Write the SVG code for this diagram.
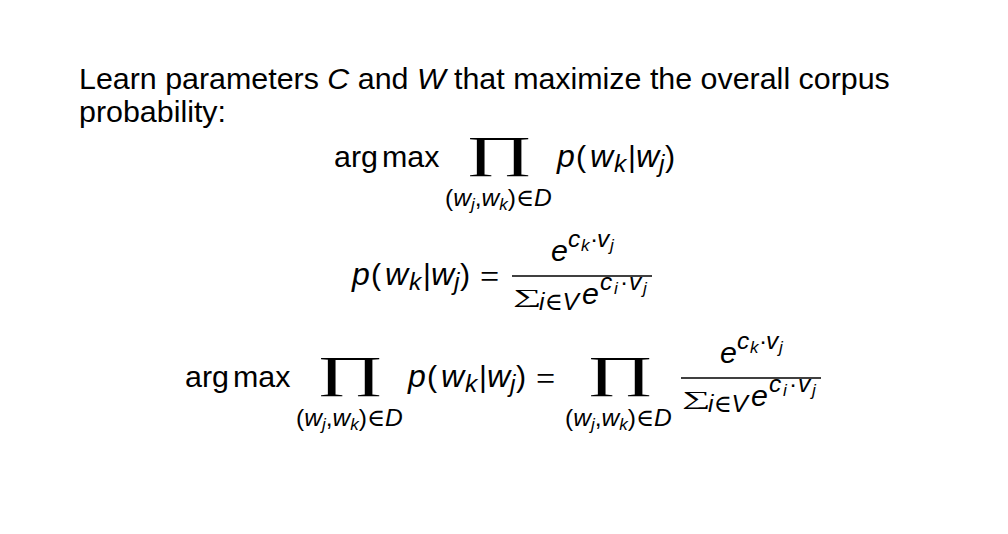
<svg xmlns="http://www.w3.org/2000/svg" width="1008" height="534" viewBox="0 0 1008 534">
<style>
text{font-family:"Liberation Sans",Arial,sans-serif;fill:#000}
.b{font-size:30.4px}
.m{font-size:30.4px}
.mi{font-size:32px;font-style:italic}
.sc{font-size:24.5px}
.ss{font-size:17px}
.i{font-style:italic}
.sf{font-family:"Liberation Serif","DejaVu Serif",serif}
.op{font-family:"Liberation Serif","DejaVu Serif",serif;font-size:44px;text-anchor:middle}
.sum{font-family:"Liberation Serif","DejaVu Serif",serif;font-size:20px}
.eq{font-family:"Liberation Serif","DejaVu Serif",serif;font-size:34px}
.bar{stroke:#000;stroke-width:1.4}
</style>
<rect width="1008" height="534" fill="#fff"/>
<g id="intro">
<text class="b" x="79" y="89">Learn parameters <tspan class="i">C</tspan> and <tspan class="i">W</tspan> that maximize the overall corpus</text>
<text class="b" x="79" y="122">probability:</text>
</g>
<g id="eq1">
<text class="m" x="334" y="167">arg</text>
<text class="m" x="382" y="167">max</text>
<text class="op" transform="translate(499,167) scale(1.85,1)">∏</text>
<text class="sc" x="445" y="206">(<tspan class="i">w</tspan><tspan class="ss i" dy="4">j</tspan><tspan dy="-4">,</tspan><tspan class="i">w</tspan><tspan class="ss i" dy="4">k</tspan><tspan dy="-4">)</tspan><tspan class="sf">∈</tspan><tspan class="i">D</tspan></text>
<text class="m" y="167"><tspan class="mi" x="557">p</tspan><tspan x="576">(</tspan><tspan class="mi" x="590">w</tspan><tspan class="sc i" x="614" dy="5">k</tspan><tspan x="628" dy="-5">|</tspan><tspan class="mi" x="636">w</tspan><tspan class="sc i" x="659" dy="5">j</tspan><tspan x="665" dy="-5">)</tspan></text>
</g>
<g id="eq2">
<text class="m" y="285"><tspan class="mi" x="352">p</tspan><tspan x="371">(</tspan><tspan class="mi" x="385">w</tspan><tspan class="sc i" x="409" dy="5">k</tspan><tspan x="423" dy="-5">|</tspan><tspan class="mi" x="431">w</tspan><tspan class="sc i" x="454" dy="5">j</tspan><tspan x="460" dy="-5">)</tspan></text>
<text class="eq" x="480" y="288">=</text>
<line class="bar" x1="512" y1="276" x2="652" y2="276"/>
<text class="m" y="261"><tspan class="i" x="551">e</tspan><tspan class="sc i" x="568" dy="-14">c</tspan><tspan class="ss i" x="581" dy="4">k</tspan><tspan class="sc" x="590" dy="-4">·</tspan><tspan class="sc i" x="597">v</tspan><tspan class="ss i" x="610" dy="4">j</tspan></text>
<text class="sum" transform="translate(513,303) scale(2,1)">∑</text>
<text class="sc" x="539" y="310"><tspan class="i">i</tspan><tspan class="sf">∈</tspan><tspan class="i">V</tspan></text>
<text class="m" y="304"><tspan class="i" x="582">e</tspan><tspan class="sc i" x="600" dy="-14">c</tspan><tspan class="ss i" x="614" dy="4">i</tspan><tspan class="sc" x="620" dy="-4">·</tspan><tspan class="sc i" x="629">v</tspan><tspan class="ss i" x="643" dy="4">j</tspan></text>
</g>
<g id="eq3">
<text class="m" x="185" y="387">arg</text>
<text class="m" x="233" y="387">max</text>
<text class="op" transform="translate(350,387) scale(1.85,1)">∏</text>
<text class="sc" x="296" y="426">(<tspan class="i">w</tspan><tspan class="ss i" dy="4">j</tspan><tspan dy="-4">,</tspan><tspan class="i">w</tspan><tspan class="ss i" dy="4">k</tspan><tspan dy="-4">)</tspan><tspan class="sf">∈</tspan><tspan class="i">D</tspan></text>
<text class="m" y="387"><tspan class="mi" x="408">p</tspan><tspan x="427">(</tspan><tspan class="mi" x="441">w</tspan><tspan class="sc i" x="465" dy="5">k</tspan><tspan x="479" dy="-5">|</tspan><tspan class="mi" x="487">w</tspan><tspan class="sc i" x="510" dy="5">j</tspan><tspan x="516" dy="-5">)</tspan></text>
<text class="eq" x="536" y="390">=</text>
<text class="op" transform="translate(620,387) scale(1.85,1)">∏</text>
<text class="sc" x="565" y="426">(<tspan class="i">w</tspan><tspan class="ss i" dy="4">j</tspan><tspan dy="-4">,</tspan><tspan class="i">w</tspan><tspan class="ss i" dy="4">k</tspan><tspan dy="-4">)</tspan><tspan class="sf">∈</tspan><tspan class="i">D</tspan></text>
<line class="bar" x1="681" y1="378" x2="821" y2="378"/>
<text class="m" y="363"><tspan class="i" x="720">e</tspan><tspan class="sc i" x="737" dy="-14">c</tspan><tspan class="ss i" x="750" dy="4">k</tspan><tspan class="sc" x="759" dy="-4">·</tspan><tspan class="sc i" x="766">v</tspan><tspan class="ss i" x="779" dy="4">j</tspan></text>
<text class="sum" transform="translate(682,405) scale(2,1)">∑</text>
<text class="sc" x="708" y="412"><tspan class="i">i</tspan><tspan class="sf">∈</tspan><tspan class="i">V</tspan></text>
<text class="m" y="406"><tspan class="i" x="751">e</tspan><tspan class="sc i" x="769" dy="-14">c</tspan><tspan class="ss i" x="783" dy="4">i</tspan><tspan class="sc" x="789" dy="-4">·</tspan><tspan class="sc i" x="798">v</tspan><tspan class="ss i" x="812" dy="4">j</tspan></text>
</g>
</svg>
